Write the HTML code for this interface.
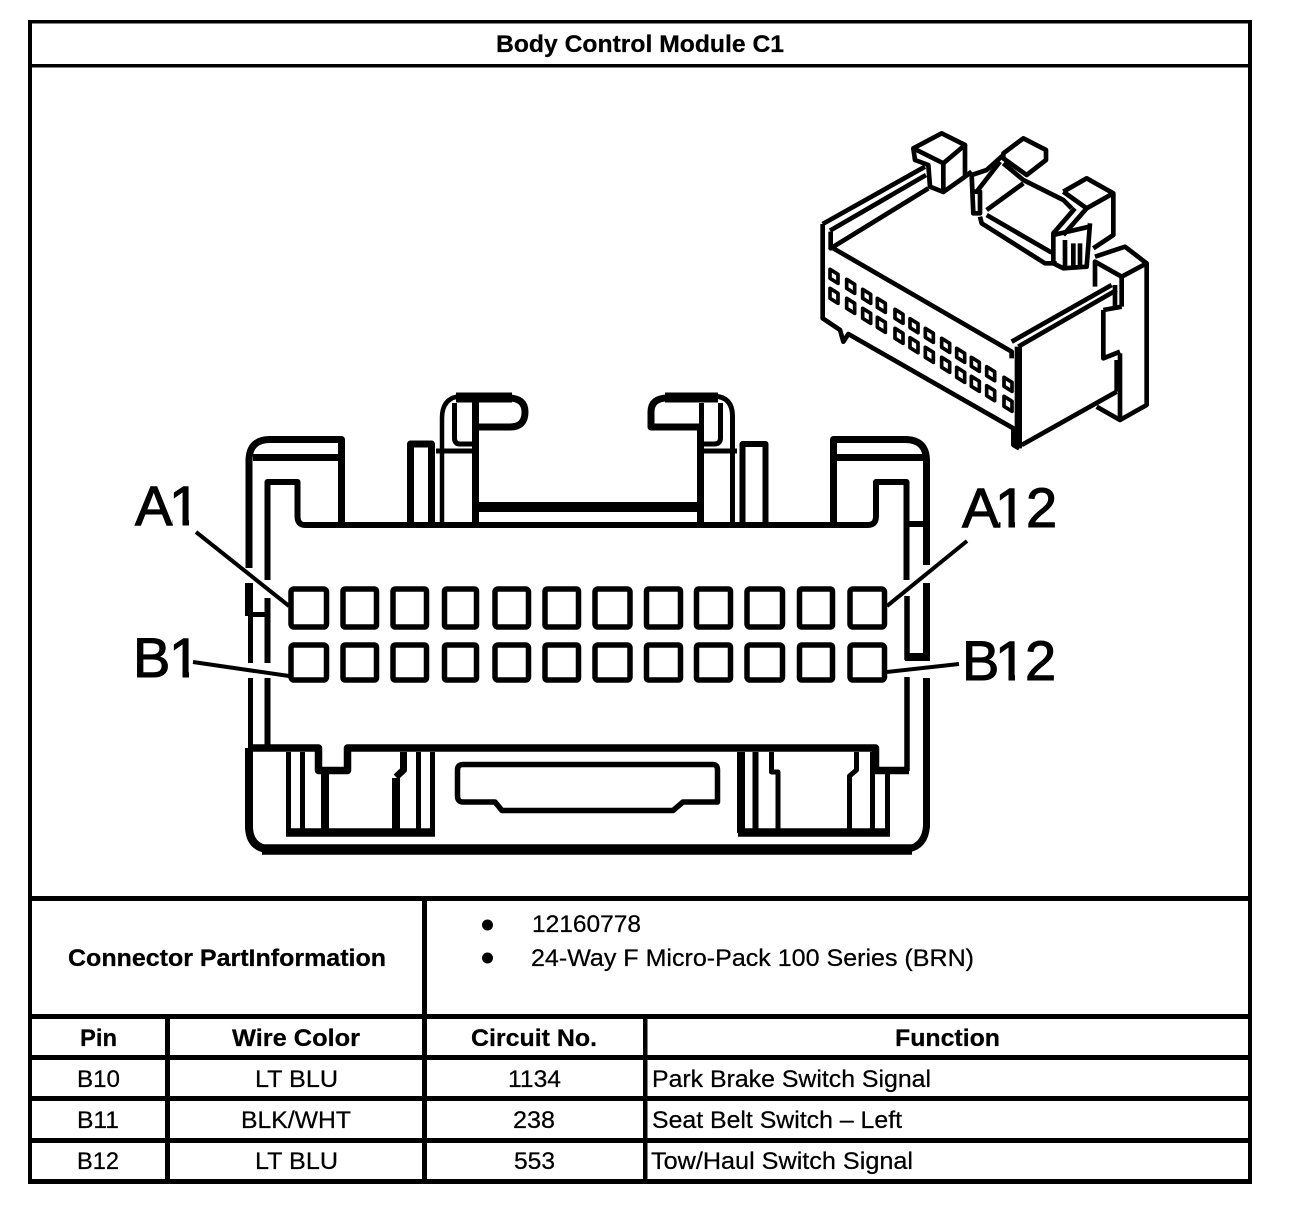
<!DOCTYPE html>
<html>
<head>
<meta charset="utf-8">
<title>Body Control Module C1</title>
<style>
html,body{margin:0;padding:0;background:#fff;}
svg{display:block;}
text{font-family:"Liberation Sans",sans-serif;fill:#000;font-size:24px;stroke:#000;stroke-width:.25px;}
.b{font-weight:bold;}
.big{font-size:56px;stroke-width:1.1px;}
.d path,.d polyline,.d rect{fill:none;stroke:#000;}
</style>
</head>
<body>
<svg width="1312" height="1208" viewBox="0 0 1312 1208" xmlns="http://www.w3.org/2000/svg">
<rect width="1312" height="1208" fill="#fff"/>

<!-- table frame -->
<g fill="#000" shape-rendering="crispEdges">
<rect x="28" y="20" width="1224" height="3.5"/>
<rect x="28" y="64" width="1224" height="3.5"/>
<rect x="28" y="896" width="1224" height="5"/>
<rect x="28" y="1014" width="1224" height="5"/>
<rect x="28" y="1055" width="1224" height="5"/>
<rect x="28" y="1096" width="1224" height="5"/>
<rect x="28" y="1138" width="1224" height="5"/>
<rect x="28" y="1179" width="1224" height="5"/>
<rect x="28" y="20" width="4" height="1164"/>
<rect x="1248" y="20" width="4" height="1164"/>
<rect x="422" y="896" width="5" height="288"/>
<rect x="165" y="1014" width="5" height="170"/>
<rect x="643" y="1014" width="4.5" height="170"/>
</g>

<!-- table text -->
<text class="b" x="496" y="52" textLength="288" lengthAdjust="spacingAndGlyphs">Body Control Module C1</text>
<text class="b" x="68" y="966" textLength="318" lengthAdjust="spacingAndGlyphs">Connector PartInformation</text>
<circle cx="487.5" cy="925" r="5.5" fill="#000"/>
<circle cx="487.5" cy="958" r="5.5" fill="#000"/>
<text x="532" y="932" textLength="109" lengthAdjust="spacingAndGlyphs">12160778</text>
<text x="531" y="966" textLength="443" lengthAdjust="spacingAndGlyphs">24-Way F Micro-Pack 100 Series (BRN)</text>

<text class="b" x="80" y="1046" textLength="37" lengthAdjust="spacingAndGlyphs">Pin</text>
<text class="b" x="232" y="1046" textLength="128" lengthAdjust="spacingAndGlyphs">Wire Color</text>
<text class="b" x="471" y="1046" textLength="126" lengthAdjust="spacingAndGlyphs">Circuit No.</text>
<text class="b" x="895" y="1046" textLength="105" lengthAdjust="spacingAndGlyphs">Function</text>

<text x="77" y="1087" textLength="43" lengthAdjust="spacingAndGlyphs">B10</text>
<text x="255" y="1087" textLength="83" lengthAdjust="spacingAndGlyphs">LT BLU</text>
<text x="508" y="1087" textLength="53" lengthAdjust="spacingAndGlyphs">1134</text>
<text x="652" y="1087" textLength="279" lengthAdjust="spacingAndGlyphs">Park Brake Switch Signal</text>

<text x="77" y="1128" textLength="42" lengthAdjust="spacingAndGlyphs">B11</text>
<text x="241" y="1128" textLength="110" lengthAdjust="spacingAndGlyphs">BLK/WHT</text>
<text x="513" y="1128" textLength="42" lengthAdjust="spacingAndGlyphs">238</text>
<text x="652" y="1128" textLength="250" lengthAdjust="spacingAndGlyphs">Seat Belt Switch – Left</text>

<text x="77" y="1169" textLength="42" lengthAdjust="spacingAndGlyphs">B12</text>
<text x="255" y="1169" textLength="83" lengthAdjust="spacingAndGlyphs">LT BLU</text>
<text x="514" y="1169" textLength="41" lengthAdjust="spacingAndGlyphs">553</text>
<text x="651" y="1169" textLength="262" lengthAdjust="spacingAndGlyphs">Tow/Haul Switch Signal</text>

<!-- pin labels -->
<text class="big" y="525"><tspan x="135">A</tspan><tspan x="169">1</tspan></text>
<text class="big" y="677"><tspan x="133">B</tspan><tspan x="169">1</tspan></text>
<text class="big" y="527"><tspan x="962">A</tspan><tspan x="995">1</tspan><tspan x="1026">2</tspan></text>
<text class="big" y="680"><tspan x="962">B</tspan><tspan x="995">1</tspan><tspan x="1025">2</tspan></text>
<!-- trim the foot of the numeral 1 -->
<g fill="#fff" shape-rendering="crispEdges">
<rect x="172.8" y="520" width="9.5" height="7"/><rect x="188.8" y="520" width="10" height="7"/>
<rect x="168" y="672" width="14.5" height="7"/><rect x="188.8" y="672" width="10" height="7"/>
<rect x="1000.5" y="522" width="8" height="7"/><rect x="1014.8" y="522" width="10" height="7"/>
<rect x="996" y="675" width="12.5" height="7"/><rect x="1014.8" y="675" width="9.5" height="7"/>
</g>

<!-- connector face -->
<g class="d" stroke-linejoin="round">
<path stroke-width="7" d="M249 568V461Q249 439.5 270 439.5H341.5V525"/>
<path stroke-width="7" d="M253 457.5H338"/>
<path stroke-width="6" d="M267.5 580V482H297.5V516Q297.5 525 305 525H868Q876 525 876 516V482H906.5V580"/>
<path stroke-width="7" d="M833.5 525V439.5H905Q926.5 439.5 926.5 461V565"/>
<path stroke-width="7" d="M837 457.5H923"/>
<path stroke-width="6" d="M905 524H925"/>

<path stroke-width="7" d="M410.5 525V444H431.5V525"/>
<path stroke-width="4.5" d="M442 525V418Q442 397 462 396"/>
<path stroke-width="10" d="M456 397.5H512"/>
<path stroke-width="7" d="M508 398Q525 398 525 412Q525 427 510 427H476"/>
<path stroke-width="7" d="M475.5 400V525"/>
<path stroke-width="5" d="M454.5 403V438Q454.5 444 460 444H472"/>
<path stroke-width="5" d="M436 451H472"/>
<path stroke-width="10" d="M479 507H698"/>

<path stroke-width="7" d="M700.5 525V427H651V412Q651 398 668 398"/>
<path stroke-width="10" d="M665 397.5H718"/>
<path stroke-width="5" d="M714 396Q732.5 397 732.5 416V525"/>
<path stroke-width="5" d="M701.5 403V427"/>
<path stroke-width="5" d="M720.5 403V438Q720.5 444 714 444H703"/>
<path stroke-width="5" d="M703 451H737"/>
<path stroke-width="6" d="M742.5 525V444H765.5V525"/>

<!-- side walls -->
<path stroke-width="8" d="M249 583V616"/>
<path stroke-width="5" d="M248 614.5H270"/>
<path stroke-width="5" d="M250.5 615V663M250.5 678V748"/>
<path stroke-width="6" d="M267.5 598V663M267.5 678V748"/>
<path stroke-width="5.5" d="M907 596V660M907 677V771"/>
<path stroke-width="7" d="M926.5 583V660M926.5 678V828"/>
<path stroke-width="8" d="M905 657H930"/>
<path stroke-width="8" d="M249 748V828Q250 846 266 849"/>
<path stroke-width="7" d="M926.5 826Q925 846 908 849"/>
<path stroke-width="10.5" d="M262 849.5H912"/>

<!-- lower details -->
<path stroke-width="7.5" d="M248 748H318.5V770.5H347.5V748H875.5V770.5H909"/>
<path stroke-width="5" d="M288.5 752V833M302.5 752V830M418.5 752V830M432.5 752V833"/>
<path stroke-width="8" d="M325 774V832M396 778V832"/>
<path stroke-width="7" d="M403.5 752V770L396 777"/>
<path stroke-width="8.5" d="M286 832.5H435"/>
<path stroke-width="8" d="M741 752V833"/>
<path stroke-width="6" d="M755.5 752V830"/>
<path stroke-width="5" d="M771.5 752V772H778V830M856.5 752V770L849.5 776V830M872.5 752V830M887.5 772V833"/>
<path stroke-width="8.5" d="M738 832.5H890"/>
<path stroke-width="5.5" d="M463 764.5H713Q717.5 764.5 717.5 770V802H683L673 810.5H502L495 802H463Q457.5 802 457.5 796V770Q457.5 764.5 463 764.5Z"/>

<!-- pins -->
<g stroke-width="5.5">
<rect x="291" y="589" width="35.5" height="38" rx="3"/><rect x="343" y="589" width="33.5" height="38" rx="2"/>
<rect x="393" y="589" width="33.5" height="38" rx="2"/><rect x="444.5" y="589" width="32" height="38" rx="2"/>
<rect x="495" y="589" width="33.5" height="38" rx="3"/><rect x="545" y="589" width="33.5" height="38" rx="2"/>
<rect x="595" y="589" width="35" height="38" rx="3"/><rect x="646.5" y="589" width="34" height="38" rx="2"/>
<rect x="696.5" y="589" width="34" height="38" rx="2"/><rect x="747" y="589" width="35.5" height="38" rx="3"/>
<rect x="799.5" y="589" width="33" height="38" rx="2"/><rect x="850" y="589" width="34.5" height="38" rx="3"/>
<rect x="291" y="645" width="35.5" height="35" rx="3"/><rect x="343" y="645" width="33.5" height="35" rx="2"/>
<rect x="393" y="645" width="33.5" height="35" rx="2"/><rect x="444.5" y="645" width="32" height="35" rx="2"/>
<rect x="495" y="645" width="33.5" height="35" rx="3"/><rect x="545" y="645" width="33.5" height="35" rx="2"/>
<rect x="595" y="645" width="35" height="35" rx="3"/><rect x="646.5" y="645" width="34" height="35" rx="2"/>
<rect x="696.5" y="645" width="34" height="35" rx="2"/><rect x="747" y="645" width="35.5" height="35" rx="3"/>
<rect x="799.5" y="645" width="33" height="35" rx="2"/><rect x="850" y="645" width="34.5" height="35" rx="3"/>
</g>

<!-- leader lines -->
<path stroke-width="4" d="M196 532L289 606"/>
<path stroke-width="4" d="M193 662L289 676"/>
<path stroke-width="4" d="M967 541L887 606"/>
<path stroke-width="4" d="M959 664L887 672"/>
</g>

<!-- isometric connector -->
<g class="d" transform="translate(800 120) scale(.33333)" stroke-linejoin="round">
<g stroke-width="14">
<path d="M68 312V595L120 630L130 665L145 642L640 925V975L658 985"/>
<path d="M68 312L375 140"/>
<path d="M90 332L378 165"/>
<path d="M92 335V385L385 205"/>
<path d="M100 385L635 695V715"/>
<path d="M665 975L950 815"/>
<path d="M635 665L935 495"/>
<path d="M655 680L950 510"/>
<path d="M1040 430V855L960 900L890 860"/>
<path d="M885 410L975 380L1040 430L965 470L885 425V500"/>
<path d="M965 470V560M960 700V895"/>
<path d="M945 495V570"/>
<path d="M910 570V715L960 695M910 570L965 560"/>
<path d="M950 720V815"/>
<path d="M340 85L425 40L495 75L430 130Z"/>
<path d="M340 85L345 120L385 135L390 200L430 216L495 170V75"/>
<path d="M430 130V216"/>
<path d="M495 170L515 155"/>
<path d="M610 100L670 55L738 90V120L680 165L610 115Z"/>
<path d="M515 165L560 150L610 105"/>
<path d="M515 165L520 280H540V215H520"/>
<path d="M530 215L600 125"/>
<path d="M540 290L545 310L735 430H770"/>
<path d="M560 285L755 398"/>
<path d="M610 130L670 180L790 240L815 265"/>
<path d="M560 270L670 190"/>
<path d="M790 215L860 175L940 220V345L880 385"/>
<path d="M790 215L860 265L940 220"/>
<path d="M825 265L760 340V430L790 445L860 440L870 310"/>
<path d="M790 345L860 265"/>
<path d="M760 345L868 320"/>
<path d="M795 360V440M820 370V440M840 370V440"/>
</g>
<path stroke-width="22" d="M655 680V985"/>
<g stroke-width="11">
<path d="M90 448L114 463V490L90 475Z"/><path d="M90 505L114 520V550L90 535Z"/>
<path d="M140 478L164 493V520L140 505Z"/><path d="M140 535L164 550V580L140 565Z"/>
<path d="M188 508L212 523V550L188 535Z"/><path d="M188 565L212 580V610L188 595Z"/>
<path d="M232 535L256 550V577L232 562Z"/><path d="M232 592L256 607V637L232 622Z"/>
<path d="M285 568L309 583V610L285 595Z"/><path d="M285 625L309 640V670L285 655Z"/>
<path d="M330 596L354 611V638L330 623Z"/><path d="M330 653L354 668V698L330 683Z"/>
<path d="M376 625L400 640V667L376 652Z"/><path d="M376 682L400 697V727L376 712Z"/>
<path d="M425 655L449 670V697L425 682Z"/><path d="M425 712L449 727V757L425 742Z"/>
<path d="M470 685L494 700V727L470 712Z"/><path d="M470 742L494 757V787L470 772Z"/>
<path d="M514 712L538 727V754L514 739Z"/><path d="M514 769L538 784V814L514 799Z"/>
<path d="M560 740L584 755V782L560 767Z"/><path d="M560 797L584 812V842L560 827Z"/>
<path d="M612 772L636 787V814L612 799Z"/><path d="M612 829L636 844V874L612 859Z"/>
</g>
</g>
</svg>
</body>
</html>
